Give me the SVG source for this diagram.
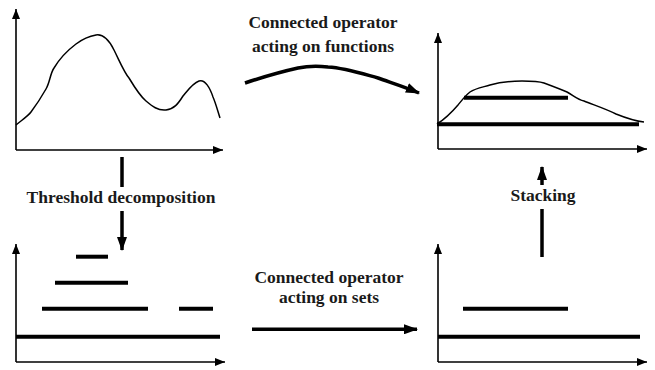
<svg xmlns="http://www.w3.org/2000/svg" width="655" height="370" viewBox="0 0 655 370">
<style>
.ax{fill:none;stroke:#000;stroke-width:1.6;marker-end:url(#axh)}
.bar{stroke:#000;stroke-width:4;stroke-linecap:butt}
.crv{fill:none;stroke:#000;stroke-width:1.5;stroke-linejoin:round}
.lbl{font-family:"Liberation Serif","Times New Roman",serif;font-weight:bold;font-size:17.5px;fill:#1a1a1a;text-anchor:middle}
.con{fill:none;stroke:#000;stroke-width:3.5}
</style>
<defs>
<marker id="axh" markerUnits="userSpaceOnUse" markerWidth="10" markerHeight="8" refX="10" refY="4" orient="auto"><path d="M0,0 L10,4 L0,8 z" fill="#000"/></marker>
<marker id="bh" markerUnits="userSpaceOnUse" markerWidth="14" markerHeight="10" refX="13" refY="5" orient="auto"><path d="M0,0 L14,5 L0,10 z" fill="#000"/></marker>
</defs>
<g id="plot-function">
<path class="ax" d="M16,150 L16,9"/>
<path class="ax" d="M16,150 L223,150"/>
<path class="crv" d="M16,125 C22,120 28,116 31,112 C37,104 42,96 46,89 C50,82 50,74 54,68 C60,58 68,50 76,44 C84,38 90,36 96,35 C102,34 108,38 114,50 C120,62 124,72 129,78 C135,88 140,96 146,101 C152,106 158,111 166,110 C174,109 178,104 183,96 C188,90 193,83 199,81 C205,79 210,88 213,97 C216,104 218,112 220,118"/>
</g>
<g id="plot-result">
<path class="ax" d="M438,149 L438,33"/>
<path class="ax" d="M438,149 L647,149"/>
<path class="crv" d="M437,124 C445,119 452,112 458,105 C462,100 465,96 470,92 C476,88 484,87 490,85 C500,82 510,81 522,81 C530,81 538,81 544,83 C552,86 560,89 567,92 C574,96 578,100 584,101 C594,105 606,109 616,114 C626,118 634,121 644,122"/>
<line class="bar" x1="437" y1="124.3" x2="639" y2="124.3"/>
<line class="bar" x1="464" y1="97.7" x2="568" y2="97.7"/>
</g>
<g id="plot-sets">
<path class="ax" d="M16,362 L16,244"/>
<path class="ax" d="M16,362 L225,362"/>
<line class="bar" x1="76" y1="256.7" x2="108" y2="256.7"/>
<line class="bar" x1="55" y1="282.7" x2="128" y2="282.7"/>
<line class="bar" x1="42" y1="308.7" x2="148" y2="308.7"/>
<line class="bar" x1="179" y1="308.7" x2="213" y2="308.7"/>
<line class="bar" x1="16" y1="336.7" x2="220" y2="336.7"/>
</g>
<g id="plot-result-sets">
<path class="ax" d="M438,362 L438,244"/>
<path class="ax" d="M438,362 L647,362"/>
<line class="bar" x1="463" y1="308.7" x2="568" y2="308.7"/>
<line class="bar" x1="438" y1="336.7" x2="640" y2="336.7"/>
</g>
<g id="connectors">
<path class="con" d="M245,83 C260,78 280,72 298,68 C308,66 318,66 328,67 C345,68 360,73 378,78 C392,83 405,87 419,93" marker-end="url(#bh)"/>
<path class="con" stroke-width="3" d="M122,157 L122,187"/>
<path class="con" stroke-width="3" d="M122,211 L122,250" marker-end="url(#bh)"/>
<path class="con" d="M252,329.3 L417,329.3" marker-end="url(#bh)"/>
<path class="con" stroke-width="3" d="M542,257 L542,209"/>
<path class="con" stroke-width="3" d="M542,185 L542,167" marker-end="url(#bh)"/>
</g>
<g id="labels">
<text class="lbl" x="323" y="28">Connected operator</text>
<text class="lbl" x="323" y="51.7">acting on functions</text>
<text class="lbl" x="121" y="203.3">Threshold decomposition</text>
<text class="lbl" x="543" y="200.7">Stacking</text>
<text class="lbl" x="329" y="283.3">Connected operator</text>
<text class="lbl" x="329" y="303.3">acting on sets</text>
</g>
</svg>
